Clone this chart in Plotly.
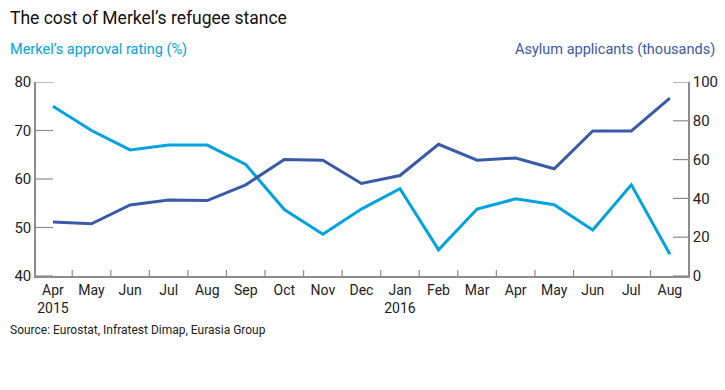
import plotly.graph_objects as go

months = ["Apr", "May", "Jun", "Jul", "Aug", "Sep", "Oct", "Nov", "Dec",
          "Jan", "Feb", "Mar", "Apr", "May", "Jun", "Jul", "Aug"]
tick_labels = ["Apr<br>2015", "May", "Jun", "Jul", "Aug", "Sep", "Oct", "Nov", "Dec",
               "Jan<br>2016", "Feb", "Mar", "Apr", "May", "Jun", "Jul", "Aug"]
approval = [75, 70, 66, 67, 67, 63, 53.7, 48.6, 53.8, 58, 45.4, 53.8, 55.9, 54.7, 49.5, 58.8, 44.5]
asylum = [27.8, 26.9, 36.6, 39.2, 38.9, 47, 60.1, 59.7, 47.7, 51.8, 67.9, 59.7, 60.8, 55.3, 74.8, 74.8, 91.7]
left_ticks = [40, 50, 60, 70, 80]
right_ticks = [0, 20, 40, 60, 80, 100]

x = list(range(len(months)))
XR = [-0.44, 16.47]
YR = [40, 80]
Y2R = [0, 100]
LIGHT = "#00A3DE"
DARK = "#3A59A6"
AXIS = "#8c8c8c"
NOGRID = "rgba(0,0,0,0)"
FONT = "Roboto"

L, R, T, B = 36, 37, 82, 114
W, H = 725, 390
pw = W - L - R
ph = H - T - B

fig = go.Figure()
fig.add_trace(go.Scatter(x=x, y=approval, mode="lines", line=dict(color=LIGHT, width=3),
                         name="Merkel's approval rating (%)", yaxis="y", hoverinfo="skip"))
fig.add_trace(go.Scatter(x=x, y=asylum, mode="lines", line=dict(color=DARK, width=3),
                         name="Asylum applicants (thousands)", yaxis="y2", hoverinfo="skip"))

# inward tick marks drawn as short line shapes on the axes
shapes = []
for v in left_ticks:
    shapes.append(dict(type="line", xref="paper", yref="y", x0=0, x1=17 / pw, y0=v, y1=v,
                       line=dict(color=AXIS, width=1.2), layer="above"))
for v in right_ticks:
    shapes.append(dict(type="line", xref="paper", yref="y2", x0=1 - 15 / pw, x1=1, y0=v, y1=v,
                       line=dict(color=AXIS, width=1.2), layer="above"))
for i in range(len(months) - 1):
    b = i + 0.5
    shapes.append(dict(type="line", xref="x", yref="paper", x0=b, x1=b, y0=0, y1=6 / ph,
                       line=dict(color=AXIS, width=1.2), layer="above"))

fig.update_layout(
    template="none",
    width=W, height=H,
    margin=dict(l=L, r=R, t=T, b=B, pad=0),
    paper_bgcolor="white", plot_bgcolor="white",
    showlegend=False,
    font=dict(family=FONT, size=14, color="#222222"),
    shapes=shapes,
    xaxis=dict(
        range=XR, tickmode="array", tickvals=x, ticktext=tick_labels,
        ticks="", gridcolor=NOGRID, zeroline=False,
        showline=True, linecolor=AXIS, linewidth=1.5,
        tickfont=dict(size=14, color="#222222"),
    ),
    yaxis=dict(
        range=YR, tickmode="array", tickvals=left_ticks, ticks="",
        gridcolor=NOGRID, zeroline=False,
        showline=True, linecolor=AXIS, linewidth=1.5,
        tickfont=dict(size=15, color="#222222"),
    ),
    yaxis2=dict(
        range=Y2R, tickmode="array", tickvals=right_ticks, ticks="",
        gridcolor=NOGRID, zeroline=False,
        showline=True, linecolor=AXIS, linewidth=1.5, overlaying="y", side="right",
        tickfont=dict(size=15, color="#222222"),
    ),
)


def px(xp, yp):
    return (xp - L) / pw, 1 - (yp - T) / ph


def ann(text, xp, yp, xanchor, size, color):
    ax, ay = px(xp, yp)
    return dict(text=text, x=ax, y=ay, xref="paper", yref="paper", showarrow=False,
                xanchor=xanchor, yanchor="middle", font=dict(size=size, color=color, family=FONT))


fig.update_layout(annotations=[
    ann("The cost of Merkel’s refugee stance", 8, 18, "left", 17.5, "#111111"),
    ann("Merkel’s approval rating (%)", 8, 50, "left", 14.5, LIGHT),
    ann("Asylum applicants (thousands)", 717, 50, "right", 14.5, DARK),
    ann("Source: Eurostat, Infratest Dimap, Eurasia Group", 8, 330, "left", 12, "#222222"),
])

fig.write_html("out.html", config={"displayModeBar": False},
               post_script="document.body.style.margin='0';document.body.style.padding='0';")
